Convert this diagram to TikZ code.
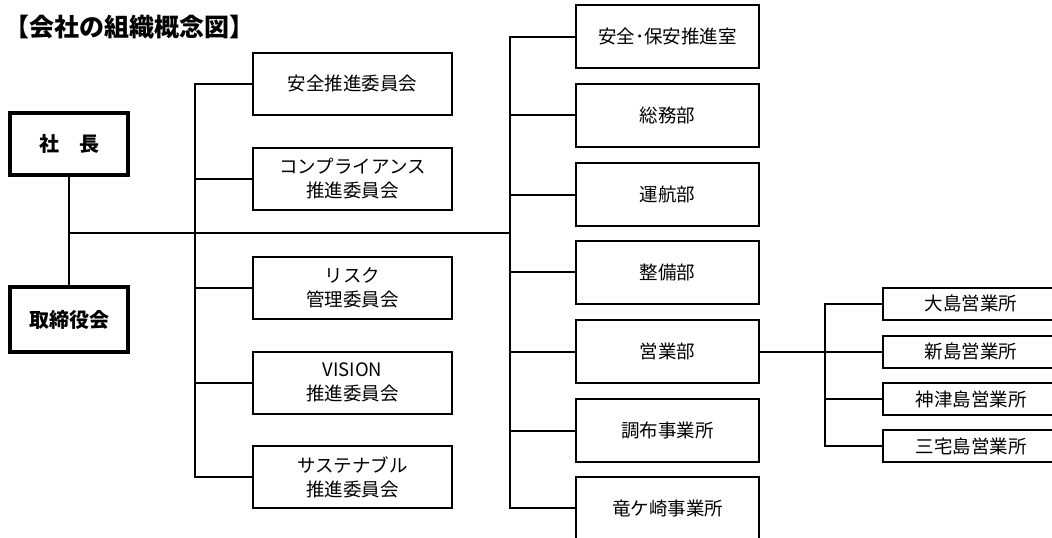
\documentclass[tikz,border=0pt]{standalone}
\usepackage{fontspec}
\setmainfont{Noto Sans CJK JP}
\begin{document}
\begin{tikzpicture}[x=1pt, y=-1pt, line width=2pt,
	box/.style={draw, line width=2pt, align=center, inner sep=0pt,
		font=\fontsize{18.5}{24}\selectfont},
	chief/.style={box, line width=4pt, minimum width=118pt, font=\fontsize{20}{24}\selectfont\bfseries},
	cmte/.style={box, minimum width=199pt, minimum height=62pt},
	dept/.style={box, minimum width=183pt, minimum height=63pt},
	office/.style={box, minimum width=176pt, minimum height=32pt}]
	\clip (0,0) rectangle (1052,538);
	\node[anchor=west, inner sep=0pt, font=\fontsize{25}{28}\selectfont\bfseries] (ttl) at (4,27) {【会社の組織概念図】};
	% 社長・取締役会
	\node[chief, minimum height=62pt] (pres) at (69,144) {社\quad 長};
	\node[chief, minimum height=65pt] (board) at (69,319.5) {取締役会};
	% 委員会
	\node[cmte] (m1) at (352.5,83.5) {安全推進委員会};
	\node[cmte] (m2) at (352.5,178.5) {コンプライアンス\\推進委員会};
	\node[cmte] (m3) at (352.5,288) {リスク\\管理委員会};
	\node[cmte] (m4) at (352.5,382.5) {VISION\\推進委員会};
	\node[cmte] (m5) at (352.5,477) {サステナブル\\推進委員会};
	% 部・事業所
	\node[dept] (r1) at (667.5,36.5) {安全･保安推進室};
	\node[dept] (r2) at (667.5,115) {総務部};
	\node[dept] (r3) at (667.5,194.5) {運航部};
	\node[dept] (r4) at (667.5,272) {整備部};
	\node[dept] (sales) at (667.5,351.5) {営業部};
	\node[dept] (r6) at (667.5,430.5) {調布事業所};
	\node[dept] (r7) at (667.5,508) {竜ケ崎事業所};
	% 営業所
	\node[office] (s1) at (971,303.5) {大島営業所};
	\node[office] (s2) at (971,351.5) {新島営業所};
	\node[office] (s3) at (971,399) {神津島営業所};
	\node[office] (s4) at (971,446) {三宅島営業所};
	\coordinate (ja) at (195,233);
	\coordinate (jb) at (510,233);
	\coordinate (jc) at (825,351.5);
	\draw (pres) -- (board);
	\draw (pres.south |- ja) -- (jb);
	\draw (m1.west) -| (ja) |- (m5.west);
	\foreach \n in {m2,m3,m4} \draw (\n.west) -- (\n.west -| ja);
	\draw (r1.west) -| (jb) |- (r7.west);
	\foreach \n in {r2,r3,r4,sales,r6} \draw (\n.west) -- (\n.west -| jb);
	\draw (sales.east) -- (s2.west);
	\draw (s1.west) -| (jc) |- (s4.west);
	\draw (s3.west) -- (s3.west -| jc);
\end{tikzpicture}
\end{document}
